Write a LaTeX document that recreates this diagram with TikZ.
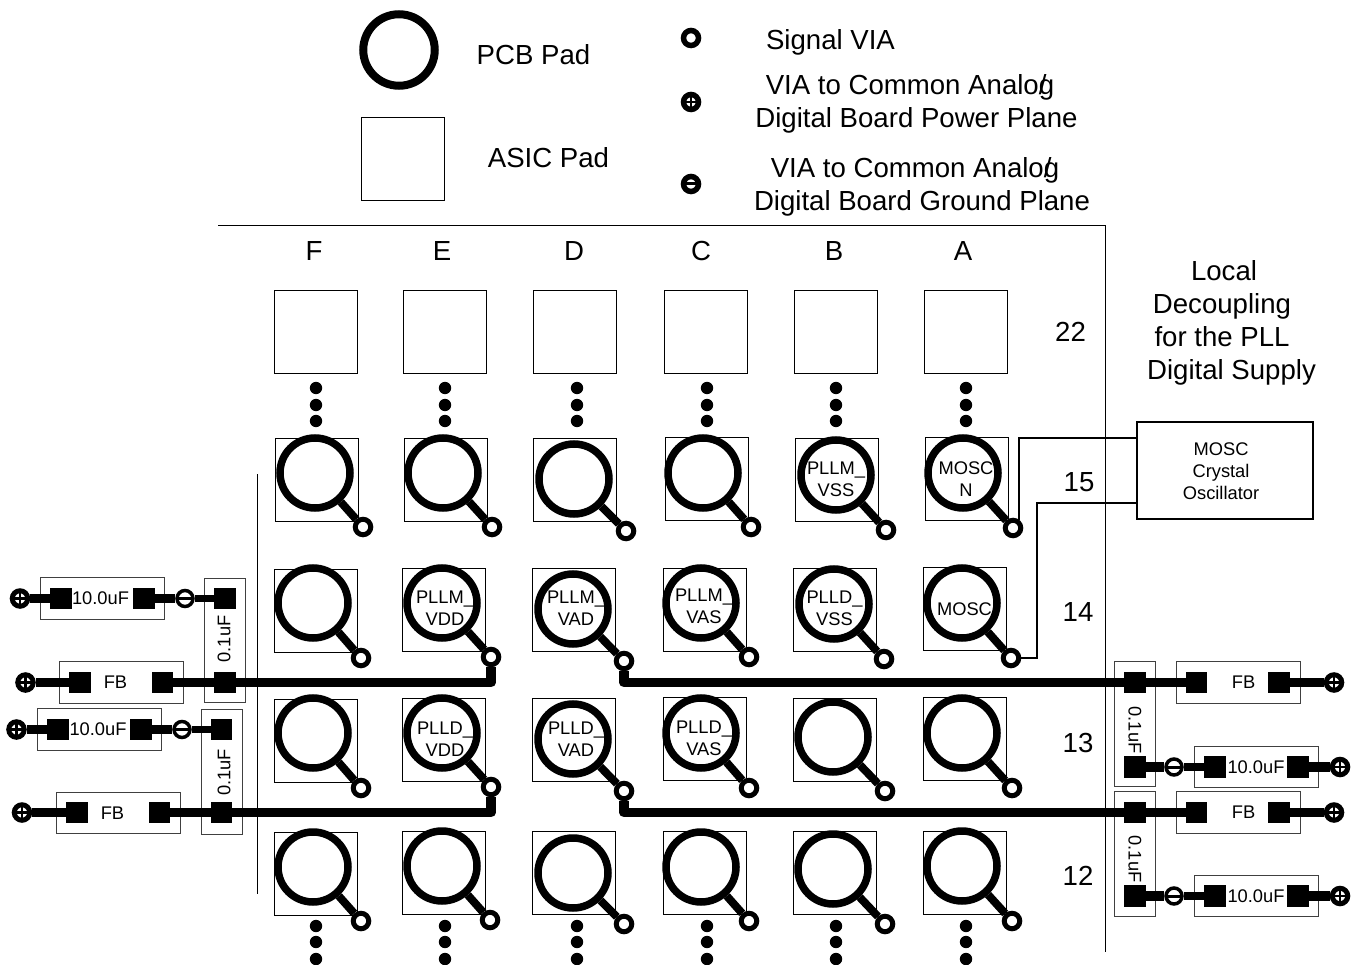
\documentclass[tikz,border=0pt]{standalone}
\usepackage{fontspec}
\setmainfont{Liberation Sans}
\tikzset{
	asicpad/.style={draw, black, line width=1pt, outer sep=0pt, inner sep=0pt, minimum size=83pt},
	pcbpad/.style={draw, circle, black, line width=7.5pt, inner sep=0pt, minimum size=70pt},
	sigvia/.style={draw, circle, black, fill=white, line width=5pt, inner sep=0pt, minimum size=15.5pt},
	pwrvia/.style={sigvia, path picture={
			\draw[line width=2.6pt] (path picture bounding box.west) -- (path picture bounding box.east);
			\draw[line width=2.6pt] (path picture bounding box.north) -- (path picture bounding box.south);}},
	gndvia/.style={sigvia, path picture={
			\draw[line width=3pt] (path picture bounding box.west) -- (path picture bounding box.east);}},
	gndring/.style={gndvia, line width=3.5pt, minimum size=16pt},
	smdpad/.style={fill, black, inner sep=0pt, minimum width=21.5pt, minimum height=21.5pt},
	partbox/.style={draw=black!75, line width=1pt, outer sep=0pt, inner sep=0pt},
	longpart/.style={partbox, minimum width=124pt, minimum height=41.5pt},
	tallpart/.style={partbox, minimum width=41pt, minimum height=124.5pt},
	biglbl/.style={inner sep=0pt, font=\fontsize{27.6}{33}\selectfont},
	smalllbl/.style={inner sep=0pt, align=center, font=\fontsize{18.3}{22}\selectfont},
	stubline/.style={line width=8pt},
	tracewide/.style={line width=9.5pt, line join=round},
	tracethin/.style={line width=7.5pt},
	clockline/.style={line width=2.3pt, line join=miter},
}
\begin{document}
\begin{tikzpicture}[x=1pt, y=-1pt]
	\useasboundingbox (0,0) rectangle (1352,965);

	% legend
	\node[pcbpad, line width=8pt, minimum size=71.5pt] (keypcb) at (399,50) {};
	\node[asicpad] (keyasic) at (402.5,159) {};
	\node[sigvia, line width=5.5pt, minimum size=15pt] (keysig) at (691,38) {};
	\node[pwrvia, line width=5.5pt, minimum size=15pt] (keypwr) at (691,102) {};
	\node[gndvia, line width=5.5pt, minimum size=15pt] (keygnd) at (691,184) {};
	\node[biglbl] (txtpcb) at (533.5,55) {PCB Pad};
	\node[biglbl] (txtasic) at (548.5,157.5) {ASIC Pad};
	\node[biglbl] (txtsig) at (830.5,42) {Signal VIA};
	\node[biglbl] (txtpwra) at (910,87) {VIA to Common Analo\rlap{/}g};
	\node[biglbl] (txtpwrb) at (916.5,120) {Digital Board Power Plane};
	\node[biglbl] (txtgnda) at (915,170) {VIA to Common Analo\rlap{/}g};
	\node[biglbl] (txtgndb) at (922,203) {Digital Board Ground Plane};

	% frame of the grid
	\draw[line width=1pt] (218,226) -- (1105,226) -- (1105,952);
	\draw[line width=1pt] (257,474) -- (257,894);

	% column and row names
	\foreach \cname/\cx in {F/314, E/442, D/574, C/701, B/834, A/963}
		\node[biglbl] (col\cname) at (\cx,251) {\cname};
	\foreach \rname/\rx/\ry in {22/1070.5/332, 15/1079/482, 14/1078/612, 13/1078/743, 12/1078/876}
		\node[biglbl] (row\rname) at (\rx,\ry) {\rname};

	% top row, only the ASIC pads
	\foreach \cname/\sx in {F/315.5, E/444.5, D/574.5, C/705.5, B/835.5, A/965.5}
		\node[asicpad] (asic\cname22) at (\sx,332) {};

	% continuation dots
	\foreach \dx in {316, 445, 577, 707, 836, 966} {
		\foreach \dy in {388, 405, 421, 926, 942, 959}
			\fill (\dx,\dy) circle[radius=6.2];
	}

	% ball cells: square, circle, via
	\foreach \cname/\sx/\sy/\cx/\cy/\vx/\vy in {
		F15/317/480/315/473/363/527, E15/446/479.5/443/473/492/527, D15/575/480/574/479/626/531,
		C15/706.5/478.5/703/473/751/527, B15/836.5/479.5/836/475/886/530, A15/966.5/479/963/473/1013/528,
		F14/316/610.5/313/603/361/658, E14/444/609.5/442/603/491/657, D14/573.5/610/573/609/624/661,
		C14/705/609.5/701/603/749/657, B14/834.5/609.5/834/604/884/659, A14/964.5/609/962/603/1011/658,
		F13/316/740.5/313/733/361/788, E13/444/740/442/733/491/787, D13/573.5/740/573/739/624/791,
		C13/705/739/701/733/749/788, B13/834.5/740/833/737/885/791, A13/964.5/739/962/733/1012/788,
		F12/316/873.5/313/867/361/921, E12/444/872.5/442/866/490/920, D12/573.5/873/573/873/624/924,
		C12/705/872.5/701/867/749/921, B12/834.5/872.5/833/869/885/924, A12/964.5/872.5/962/866/1012/921} {
		\node[asicpad] (asic\cname) at (\sx,\sy) {};
		\node[pcbpad] (ball\cname) at (\cx,\cy) {};
		\node[sigvia] (via\cname) at (\vx,\vy) {};
		\draw[stubline] (ball\cname) -- (via\cname);
	}

	% names on the balls
	\node[smalllbl] (lblB15) at (836,479) {PLLM\_\\VSS};
	\node[smalllbl] (lblA15) at (966,479) {MOSC\\N};
	\node[smalllbl] (lblE14) at (445,608) {PLLM\_\\VDD};
	\node[smalllbl] (lblD14) at (576,608) {PLLM\_\\VAD};
	\node[smalllbl] (lblC14) at (704,606) {PLLM\_\\VAS};
	\node[smalllbl] (lblB14) at (834.5,608) {PLLD\_\\VSS};
	\node[smalllbl] (lblA14) at (964.5,609) {MOSC};
	\node[smalllbl] (lblE13) at (445,739) {PLLD\_\\VDD};
	\node[smalllbl] (lblD13) at (576,739) {PLLD\_\\VAD};
	\node[smalllbl] (lblC13) at (704,738) {PLLD\_\\VAS};

	% oscillator
	\node[draw, line width=2.3pt, minimum width=176pt, minimum height=97pt, inner sep=0pt] (mosc) at (1225,470.5) {};
	\node[smalllbl] (mosctxt) at (1221,471) {MOSC\\Crystal\\Oscillator};
	\coordinate (moscn) at (mosc.west |- 0,438);
	\coordinate (moscp) at (mosc.west |- 0,503);
	\draw[clockline] (viaA15.55) |- (moscn);
	\draw[clockline] (viaA14.east) -- ++(16,0) |- (moscp);

	\node[biglbl] (txtlocal) at (1224,271) {Local};
	\node[biglbl] (txtdecoup) at (1222,306) {Decoupling};
	\node[biglbl] (txtfor) at (1222,337) {for the PLL};
	\node[biglbl] (txtdigi) at (1231.5,372) {Digital Supply};

	% left side, upper supply
	\node[longpart] (bulkLa) at (102.5,598.5) {};
	\node[smalllbl] (bulkLatxt) at (100.5,598.5) {10.0uF};
	\node[longpart] (beadLa) at (121,682.5) {};
	\node[smalllbl] (beadLatxt) at (115.5,682.5) {FB};
	\node[tallpart] (capLa) at (224.5,640.5) {};
	\node[smalllbl, rotate=90] (capLatxt) at (224,639) {0.1uF};
	\node[smdpad] (bulkLa1) at (61,598.5) {};
	\node[smdpad] (bulkLa2) at (144,598.5) {};
	\node[smdpad] (capLa1) at (225,598.5) {};
	\node[smdpad] (capLa2) at (225,682.5) {};
	\node[smdpad] (beadLa1) at (80,682.5) {};
	\node[smdpad] (beadLa2) at (162.5,682.5) {};
	\node[pwrvia] (pwrLa1) at (20,598.5) {};
	\node[pwrvia] (pwrLa2) at (25.5,682.5) {};
	\node[gndring] (gndLa) at (185,598.5) {};
	\draw[tracewide] (pwrLa1) -- (bulkLa1);
	\draw[tracewide] (bulkLa2) -- (gndLa);
	\draw[tracethin] (gndLa) -- (capLa1);
	\draw[tracewide] (pwrLa2) -- (beadLa1);
	\draw[tracewide] (viaE14) |- (capLa2) -- (beadLa2);

	% left side, lower supply
	\node[longpart] (bulkLb) at (99.5,729.5) {};
	\node[smalllbl] (bulkLbtxt) at (98,729.5) {10.0uF};
	\node[longpart] (beadLb) at (118,813) {};
	\node[smalllbl] (beadLbtxt) at (112.5,813) {FB};
	\node[tallpart] (capLb) at (221.5,772) {};
	\node[smalllbl, rotate=90] (capLbtxt) at (224,772.5) {0.1uF};
	\node[smdpad] (bulkLb1) at (58,729.5) {};
	\node[smdpad] (bulkLb2) at (141,729.5) {};
	\node[smdpad] (capLb1) at (221.5,729.5) {};
	\node[smdpad] (capLb2) at (221.5,812.5) {};
	\node[smdpad] (beadLb1) at (77,812.5) {};
	\node[smdpad] (beadLb2) at (159.5,812.5) {};
	\node[pwrvia] (pwrLb1) at (16.5,729.5) {};
	\node[pwrvia] (pwrLb2) at (22,812.5) {};
	\node[gndring] (gndLb) at (182,729.5) {};
	\draw[tracewide] (pwrLb1) -- (bulkLb1);
	\draw[tracewide] (bulkLb2) -- (gndLb);
	\draw[tracethin] (gndLb) -- (capLb1);
	\draw[tracewide] (pwrLb2) -- (beadLb1);
	\draw[tracewide] (viaE13) |- (capLb2) -- (beadLb2);

	% right side, upper supply
	\node[longpart] (beadRa) at (1238,682.5) {};
	\node[smalllbl] (beadRatxt) at (1243.5,682.5) {FB};
	\node[longpart] (bulkRa) at (1256,767) {};
	\node[smalllbl] (bulkRatxt) at (1256,767) {10.0uF};
	\node[tallpart] (capRa) at (1134.5,724) {};
	\node[smalllbl, rotate=-90] (capRatxt) at (1135,730) {0.1uF};
	\node[smdpad] (capRa1) at (1135,682.5) {};
	\node[smdpad] (capRa2) at (1135,767) {};
	\node[smdpad] (beadRa1) at (1196.5,682.5) {};
	\node[smdpad] (beadRa2) at (1279,682.5) {};
	\node[smdpad] (bulkRa1) at (1215,767) {};
	\node[smdpad] (bulkRa2) at (1298,767) {};
	\node[pwrvia] (pwrRa1) at (1334,682.5) {};
	\node[pwrvia] (pwrRa2) at (1340,767) {};
	\node[gndring] (gndRa) at (1174,767) {};
	\draw[tracewide] (viaD14) |- (capRa1) -- (beadRa1);
	\draw[tracewide] (beadRa2) -- (pwrRa1);
	\draw[tracewide] (capRa2) -- (gndRa);
	\draw[tracethin] (gndRa) -- (bulkRa1);
	\draw[tracewide] (bulkRa2) -- (pwrRa2);

	% right side, lower supply
	\node[longpart] (beadRb) at (1238,812.5) {};
	\node[smalllbl] (beadRbtxt) at (1243.5,812.5) {FB};
	\node[longpart] (bulkRb) at (1256,896) {};
	\node[smalllbl] (bulkRbtxt) at (1256,896) {10.0uF};
	\node[tallpart] (capRb) at (1134.5,854) {};
	\node[smalllbl, rotate=-90] (capRbtxt) at (1135,859) {0.1uF};
	\node[smdpad] (capRb1) at (1135,812.5) {};
	\node[smdpad] (capRb2) at (1135,896) {};
	\node[smdpad] (beadRb1) at (1196.5,812.5) {};
	\node[smdpad] (beadRb2) at (1279,812.5) {};
	\node[smdpad] (bulkRb1) at (1215,896) {};
	\node[smdpad] (bulkRb2) at (1298,896) {};
	\node[pwrvia] (pwrRb1) at (1334,812.5) {};
	\node[pwrvia] (pwrRb2) at (1340,896) {};
	\node[gndring] (gndRb) at (1174,896) {};
	\draw[tracewide] (viaD13) |- (capRb1) -- (beadRb1);
	\draw[tracewide] (beadRb2) -- (pwrRb1);
	\draw[tracewide] (capRb2) -- (gndRb);
	\draw[tracethin] (gndRb) -- (bulkRb1);
	\draw[tracewide] (bulkRb2) -- (pwrRb2);
\end{tikzpicture}
\end{document}
